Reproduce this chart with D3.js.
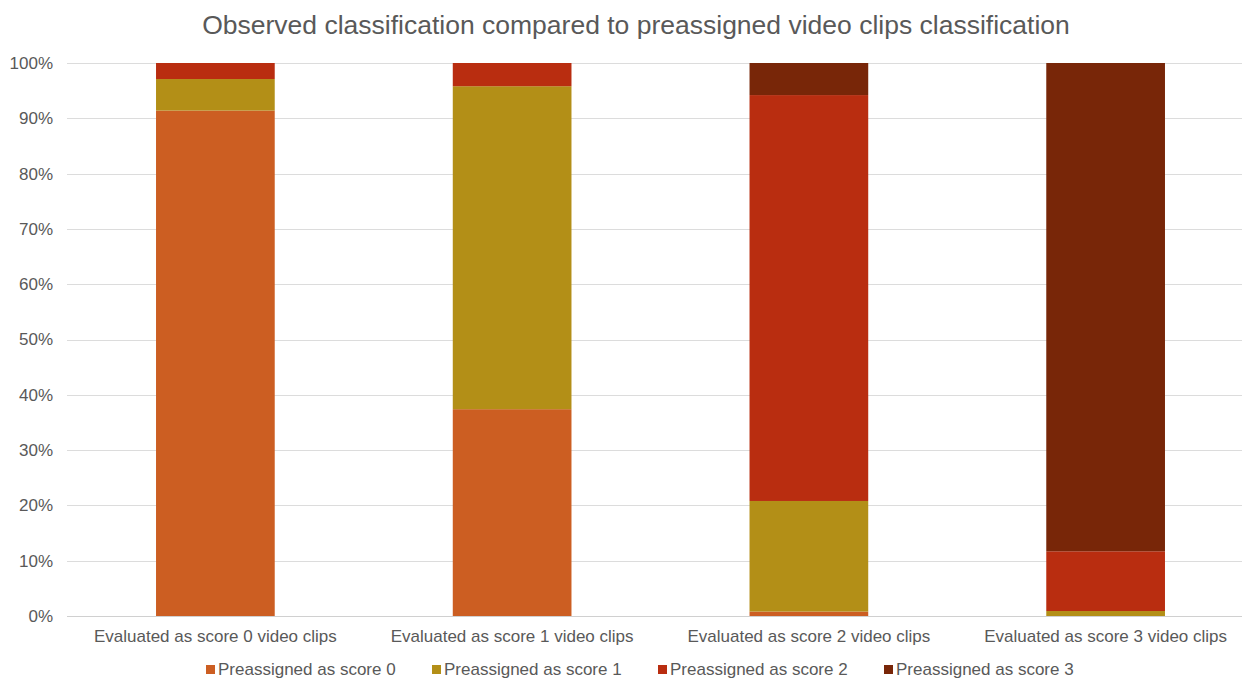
<!DOCTYPE html>
<html>
<head>
<meta charset="utf-8">
<script src="https://cdn.jsdelivr.net/npm/d3@7"></script>
<style>
  html, body { margin: 0; padding: 0; background: #fff; }
  svg { display: block; font-family: "Liberation Sans", Arial, sans-serif; }
</style>
</head>
<body>
<svg id="chart" width="1242" height="680"></svg>
<script>
// Evaluated categories (x axis)
const categories = [
  "Evaluated as score 0 video clips",
  "Evaluated as score 1 video clips",
  "Evaluated as score 2 video clips",
  "Evaluated as score 3 video clips"
];
// Stack series (preassigned classification)
const seriesNames = [
  "Preassigned as score 0",
  "Preassigned as score 1",
  "Preassigned as score 2",
  "Preassigned as score 3"
];
// Share (%) of each preassigned score within each evaluated category
const score0 = [91.4, 37.4, 0.8, 0.0];
const score1 = [5.7, 58.4, 20.0, 0.9];
const score2 = [2.9, 4.2, 73.4, 10.8];
const score3 = [0.0, 0.0, 5.8, 88.3];
const yTicks = [0, 10, 20, 30, 40, 50, 60, 70, 80, 90, 100];
const colors = ["#CC5E22", "#B38F17", "#B92D10", "#782608"];

const svg = d3.select("#chart");
const margin = { left: 67, right: -12, top: 63, bottom: 64 };
const W = 1242, H = 680;

const rows = categories.map((c, i) => ({
  category: c,
  [seriesNames[0]]: score0[i],
  [seriesNames[1]]: score1[i],
  [seriesNames[2]]: score2[i],
  [seriesNames[3]]: score3[i]
}));

const x = d3.scaleBand()
  .domain(categories)
  .range([margin.left, W - margin.right])
  .paddingInner(0.6)
  .paddingOuter(0.3);

const y = d3.scaleLinear()
  .domain([0, 100])
  .range([H - margin.bottom, margin.top]);

// Title
svg.append("text")
  .attr("x", 636).attr("y", 34)
  .attr("text-anchor", "middle")
  .attr("font-size", 26.5)
  .attr("fill", "#595959")
  .text("Observed classification compared to preassigned video clips classification");

// Gridlines
svg.append("g")
  .selectAll("line")
  .data(yTicks)
  .join("line")
  .attr("x1", margin.left).attr("x2", W)
  .attr("y1", d => Math.round(y(d)) + 0.5)
  .attr("y2", d => Math.round(y(d)) + 0.5)
  .attr("stroke", d => d === 0 ? "#d0d0d0" : "#dcdcdc")
  .attr("stroke-width", 1);

// Y axis labels
const yAxis = d3.axisLeft(y).tickValues(yTicks).tickFormat(d => d + "%").tickSize(0).tickPadding(0);
const ya = svg.append("g").attr("transform", `translate(${margin.left - 14},0)`).call(yAxis);
ya.select(".domain").remove();
ya.selectAll("text").attr("font-size", 17).attr("fill", "#595959")
  .attr("font-family", "Liberation Sans, Arial, sans-serif");

// Stacked bars
const stack = d3.stack().keys(seriesNames);
const stacked = stack(rows);
svg.append("g")
  .selectAll("g")
  .data(stacked)
  .join("g")
  .attr("fill", (d, i) => colors[i])
  .selectAll("rect")
  .data(d => d)
  .join("rect")
  .attr("x", d => x(d.data.category))
  .attr("width", x.bandwidth())
  .attr("y", d => y(d[1]))
  .attr("height", d => Math.max(0, y(d[0]) - y(d[1])));

// X axis labels
const xAxis = d3.axisBottom(x).tickSize(0).tickPadding(0);
const xa = svg.append("g").attr("transform", `translate(0,${H - margin.bottom + 26})`).call(xAxis);
xa.select(".domain").remove();
xa.selectAll("text").attr("font-size", 17).attr("fill", "#595959")
  .attr("dy", 0)
  .attr("font-family", "Liberation Sans, Arial, sans-serif");

// Legend
const legend = svg.append("g");
const legendX = d3.scalePoint().domain(seriesNames).range([206, 884]);
const item = legend.selectAll("g")
  .data(seriesNames)
  .join("g")
  .attr("transform", d => `translate(${legendX(d)},675)`);
item.append("rect")
  .attr("x", 0).attr("y", -10)
  .attr("width", 9).attr("height", 9)
  .attr("fill", (d, i) => colors[i]);
item.append("text")
  .attr("x", 12).attr("y", 0)
  .attr("font-size", 17)
  .attr("fill", "#595959")
  .text(d => d);
</script>
</body>
</html>
